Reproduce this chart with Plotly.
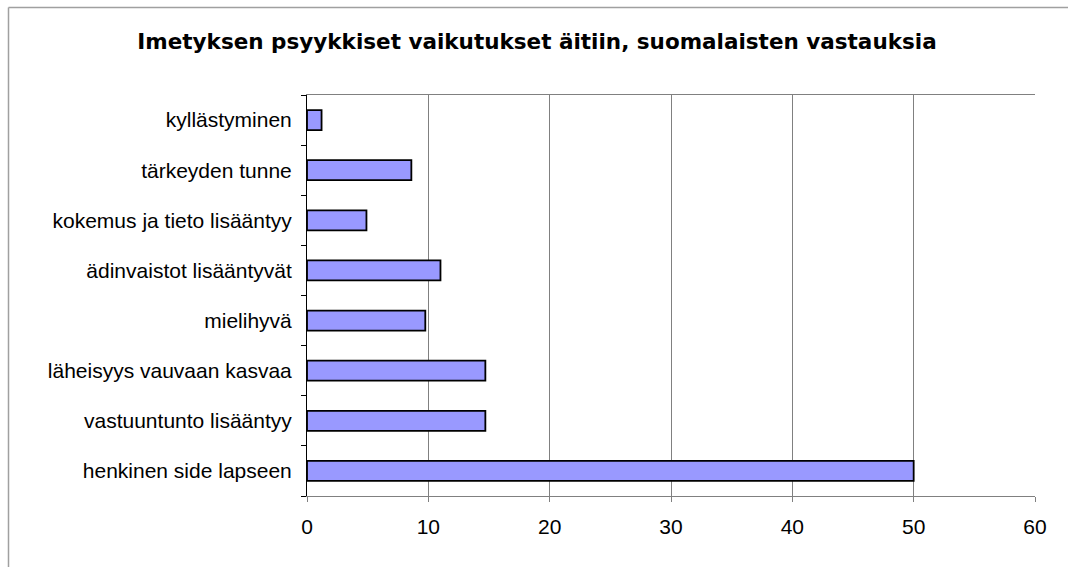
import plotly.graph_objects as go

categories = ["henkinen side lapseen", "vastuuntunto lisääntyy", "läheisyys vauvaan kasvaa",
              "mielihyvä", "ädinvaistot lisääntyvät", "kokemus ja tieto lisääntyy",
              "tärkeyden tunne", "kyllästyminen"]
values = [50, 14.7, 14.7, 9.75, 11.0, 4.9, 8.6, 1.2]
x_ticks = [0, 10, 20, 30, 40, 50, 60]
title = "Imetyksen psyykkiset vaikutukset äitiin, suomalaisten vastauksia"

W, H = 1068, 567
L, R, T, B = 307, 33, 95, 71
pw, ph = W - L - R, H - T - B

fig = go.Figure(go.Bar(
    x=values, y=categories, orientation="h",
    marker=dict(color="#9999FF", line=dict(color="black", width=1.8)),
))

fig.update_layout(
    width=W, height=H,
    margin=dict(l=L, r=R, t=T, b=B),
    paper_bgcolor="white", plot_bgcolor="white",
    bargap=0.6,
    showlegend=False,
    font=dict(family="Liberation Sans, Arial, sans-serif", size=21, color="black"),
    title=dict(text="<b>" + title + "</b>", x=537 / W, xanchor="center",
               y=1 - 41 / H, yanchor="middle",
               font=dict(family="DejaVu Sans, sans-serif", size=21.5, color="black")),
    xaxis=dict(range=[0, 60], tickvals=x_ticks, showgrid=True, gridcolor="#808080", gridwidth=1,
               showline=True, linecolor="#808080", linewidth=1, mirror=True,
               ticks="outside", ticklen=5, tickcolor="#808080", zeroline=False,
               ticklabelstandoff=7, tickfont=dict(size=21)),
    yaxis=dict(categoryorder="array", categoryarray=categories, showline=True, linecolor="black",
               linewidth=1, ticks="outside", ticklen=5, tickcolor="black", tickson="boundaries",
               showgrid=False, ticklabelstandoff=10, tickfont=dict(size=21)),
    shapes=[
        dict(type="line", xref="paper", yref="paper",
             x0=(8.5 - L) / pw, x1=(8.5 - L) / pw, y0=-B / ph, y1=(ph + T - 7.5) / ph,
             line=dict(color="#A0A0A0", width=1.5)),
        dict(type="line", xref="paper", yref="paper",
             x0=(8.5 - L) / pw, x1=(W - L) / pw, y0=(ph + T - 7.5) / ph, y1=(ph + T - 7.5) / ph,
             line=dict(color="#A0A0A0", width=1.5)),
    ],
)

fig.write_html("out.html", config={"displayModeBar": False},
               post_script="document.body.style.margin='0';document.body.style.overflow='hidden';")
